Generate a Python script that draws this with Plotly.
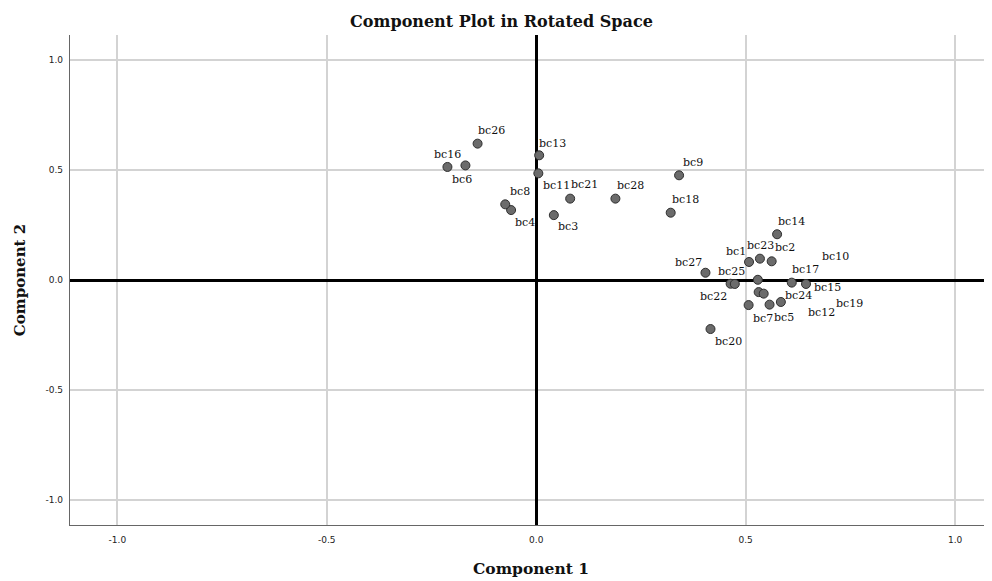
import plotly.graph_objects as go

labels = ["bc1", "bc2", "bc3", "bc4", "bc5", "bc6", "bc7", "bc8", "bc9", "bc10",
          "bc11", "bc12", "bc13", "bc14", "bc15", "bc16", "bc17", "bc18", "bc19", "bc20",
          "bc21", "bc22", "bc23", "bc24", "bc25", "bc26", "bc27", "bc28"]
comp1 = [0.508, 0.562, 0.042, -0.060, 0.557, -0.169, 0.507, -0.074, 0.341, 0.529,
         0.005, 0.531, 0.007, 0.575, 0.644, -0.212, 0.610, 0.321, 0.543, 0.416,
         0.081, 0.464, 0.534, 0.584, 0.474, -0.140, 0.404, 0.189]
comp2 = [0.082, 0.085, 0.295, 0.318, -0.112, 0.521, -0.114, 0.344, 0.476, 0.001,
         0.485, -0.055, 0.567, 0.208, -0.018, 0.514, -0.012, 0.306, -0.062, -0.223,
         0.370, -0.017, 0.097, -0.100, -0.018, 0.620, 0.033, 0.370]
tick_vals = [-1.0, -0.5, 0.0, 0.5, 1.0]
tick_text = ["-1.0", "-0.5", "0.0", "0.5", "1.0"]

# label offsets in pixels (dx right, dy down) - styling only
label_dx = [-13.5, 13.3, 14.3, 14.3, 14.8, -3.5, 14.3, 14.7, 13.7, 77.3,
            18.4, 63.0, 13.4, 14.4, 21.5, 0.0, 13.3, 14.8, 85.3, 18.1,
            14.5, -17.4, 0.7, 17.8, -3.3, 14.0, -17.0, 14.8]
label_dy = [-10.3, -13.6, 11.0, 12.3, 12.6, 14.0, 13.3, -13.3, -12.6, -23.7,
            12.4, 20.7, -12.0, -12.6, 3.3, -12.7, -13.4, -13.4, 9.6, 12.7,
            -14.4, 12.3, -12.7, -6.0, -12.3, -13.0, -10.4, -13.4]

fig = go.Figure()
fig.add_trace(go.Scatter(
    x=comp1, y=comp2, mode="markers",
    marker=dict(size=9, color="#6b6b6b", line=dict(color="#2e2e2e", width=1)),
    hoverinfo="text", text=labels, showlegend=False,
))

for lab, xv, yv, dx, dy in zip(labels, comp1, comp2, label_dx, label_dy):
    fig.add_annotation(x=xv, y=yv, xref="x", yref="y", text=lab, showarrow=False,
                       xshift=dx, yshift=-dy,
                       font=dict(family="DejaVu Serif", size=11, color="#111111"))

axis_common = dict(
    tickvals=tick_vals, ticktext=tick_text,
    showgrid=True, gridcolor="#d3d3d3", gridwidth=1.5,
    zeroline=True, zerolinecolor="#000000", zerolinewidth=3,
    showline=True, linecolor="#666666", linewidth=1.2, mirror=False,
    ticks="", tickfont=dict(family="DejaVu Sans", size=9, color="#222222"),
)

fig.update_layout(
    width=984, height=573,
    paper_bgcolor="white", plot_bgcolor="white",
    margin=dict(l=62, r=0, t=27, b=56, autoexpand=False),
    title=dict(text="<b>Component Plot in Rotated Space</b>", x=0.5015, xref="container",
               y=0.976, yref="container", xanchor="center", yanchor="middle",
               font=dict(family="DejaVu Serif", size=16, color="#111111")),
    xaxis=dict(range=[-1.113, 1.088], ticklabelstandoff=6,
               title=dict(text="<b>Component 1</b>", standoff=19,
                          font=dict(family="DejaVu Serif", size=15.5, color="#111111")),
               **axis_common),
    yaxis=dict(range=[-1.114, 1.114], ticklabelstandoff=4,
               title=dict(text="<b>Component 2</b>", standoff=16,
                          font=dict(family="DejaVu Serif", size=15, color="#111111")),
               **axis_common),
)

fig.write_html("out.html")
